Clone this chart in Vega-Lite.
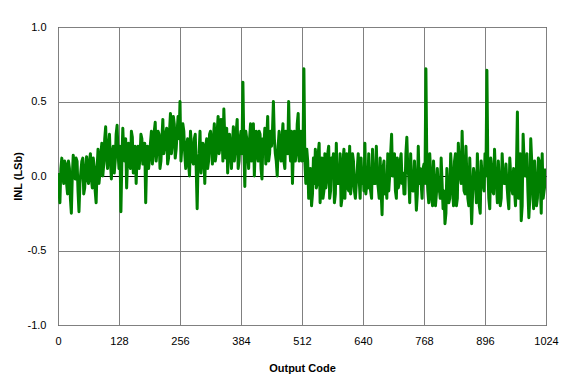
{
  "$schema": "https://vega.github.io/schema/vega-lite/v6.json",
  "width": 488,
  "height": 298,
  "autosize": {"type": "none"},
  "padding": {"left": 58, "top": 27, "right": 27, "bottom": 62},
  "background": "white",
  "config": {
    "view": {"stroke": "#000000", "strokeWidth": 1},
    "font": "Liberation Sans"
  },
  "data": {
    "values": [
      {"code": 0, "inl": 0.02}, {"code": 2, "inl": -0.1}, {"code": 4, "inl": -0.18}, {"code": 6, "inl": 0.05}, {"code": 8, "inl": 0.12}, {"code": 10, "inl": 0.0}, {"code": 12, "inl": -0.05}, {"code": 14, "inl": 0.1},
      {"code": 16, "inl": 0.08}, {"code": 18, "inl": -0.05}, {"code": 20, "inl": -0.12}, {"code": 22, "inl": 0.1}, {"code": 24, "inl": 0.05}, {"code": 26, "inl": -0.15}, {"code": 28, "inl": -0.25}, {"code": 30, "inl": 0.0},
      {"code": 32, "inl": 0.14}, {"code": 34, "inl": 0.05}, {"code": 36, "inl": -0.02}, {"code": 38, "inl": 0.12}, {"code": 40, "inl": 0.1}, {"code": 42, "inl": -0.1}, {"code": 44, "inl": -0.24}, {"code": 46, "inl": -0.05},
      {"code": 48, "inl": 0.03}, {"code": 50, "inl": 0.1}, {"code": 52, "inl": 0.12}, {"code": 54, "inl": -0.12}, {"code": 56, "inl": -0.08}, {"code": 58, "inl": 0.05}, {"code": 60, "inl": 0.13}, {"code": 62, "inl": -0.02},
      {"code": 64, "inl": -0.05}, {"code": 66, "inl": 0.1}, {"code": 68, "inl": 0.15}, {"code": 70, "inl": -0.02}, {"code": 72, "inl": -0.08}, {"code": 74, "inl": 0.12}, {"code": 76, "inl": 0.06}, {"code": 78, "inl": -0.1},
      {"code": 80, "inl": -0.18}, {"code": 82, "inl": 0.05}, {"code": 84, "inl": 0.18}, {"code": 86, "inl": -0.05}, {"code": 88, "inl": 0.02}, {"code": 90, "inl": 0.15}, {"code": 92, "inl": 0.22}, {"code": 94, "inl": 0.0},
      {"code": 96, "inl": 0.08}, {"code": 98, "inl": 0.25}, {"code": 100, "inl": 0.33}, {"code": 102, "inl": 0.12}, {"code": 104, "inl": 0.05}, {"code": 106, "inl": 0.2}, {"code": 108, "inl": 0.28}, {"code": 110, "inl": 0.1},
      {"code": 112, "inl": -0.02}, {"code": 114, "inl": 0.15}, {"code": 116, "inl": 0.2}, {"code": 118, "inl": 0.02}, {"code": 120, "inl": 0.1}, {"code": 122, "inl": 0.28}, {"code": 124, "inl": 0.34}, {"code": 126, "inl": 0.15},
      {"code": 128, "inl": 0.05}, {"code": 130, "inl": 0.2}, {"code": 132, "inl": -0.24}, {"code": 134, "inl": 0.1}, {"code": 136, "inl": 0.32}, {"code": 138, "inl": 0.15}, {"code": 140, "inl": 0.1}, {"code": 142, "inl": 0.25},
      {"code": 144, "inl": -0.08}, {"code": 146, "inl": 0.12}, {"code": 148, "inl": 0.22}, {"code": 150, "inl": 0.1}, {"code": 152, "inl": 0.05}, {"code": 154, "inl": 0.3}, {"code": 156, "inl": 0.26}, {"code": 158, "inl": 0.02},
      {"code": 160, "inl": 0.08}, {"code": 162, "inl": 0.2}, {"code": 164, "inl": -0.05}, {"code": 166, "inl": 0.15}, {"code": 168, "inl": 0.2}, {"code": 170, "inl": 0.05}, {"code": 172, "inl": 0.12}, {"code": 174, "inl": 0.28},
      {"code": 176, "inl": 0.25}, {"code": 178, "inl": 0.08}, {"code": 180, "inl": 0.1}, {"code": 182, "inl": 0.22}, {"code": 184, "inl": -0.18}, {"code": 186, "inl": 0.1}, {"code": 188, "inl": 0.2}, {"code": 190, "inl": 0.05},
      {"code": 192, "inl": 0.12}, {"code": 194, "inl": 0.22}, {"code": 196, "inl": 0.3}, {"code": 198, "inl": 0.08}, {"code": 200, "inl": 0.15}, {"code": 202, "inl": 0.3}, {"code": 204, "inl": 0.36}, {"code": 206, "inl": 0.1},
      {"code": 208, "inl": 0.18}, {"code": 210, "inl": 0.3}, {"code": 212, "inl": 0.28}, {"code": 214, "inl": 0.05}, {"code": 216, "inl": 0.1}, {"code": 218, "inl": 0.25}, {"code": 220, "inl": 0.38}, {"code": 222, "inl": 0.15},
      {"code": 224, "inl": 0.2}, {"code": 226, "inl": 0.28}, {"code": 228, "inl": 0.32}, {"code": 230, "inl": 0.08}, {"code": 232, "inl": 0.12}, {"code": 234, "inl": 0.3}, {"code": 236, "inl": 0.42}, {"code": 238, "inl": 0.15},
      {"code": 240, "inl": 0.22}, {"code": 242, "inl": 0.4}, {"code": 244, "inl": 0.35}, {"code": 246, "inl": 0.12}, {"code": 248, "inl": 0.18}, {"code": 250, "inl": 0.3}, {"code": 252, "inl": 0.4}, {"code": 254, "inl": 0.25},
      {"code": 256, "inl": 0.5}, {"code": 258, "inl": 0.1}, {"code": 260, "inl": 0.2}, {"code": 262, "inl": 0.35}, {"code": 264, "inl": 0.3}, {"code": 266, "inl": 0.15}, {"code": 268, "inl": 0.05}, {"code": 270, "inl": 0.2},
      {"code": 272, "inl": 0.25}, {"code": 274, "inl": 0.08}, {"code": 276, "inl": 0.0}, {"code": 278, "inl": 0.3}, {"code": 280, "inl": 0.2}, {"code": 282, "inl": 0.1}, {"code": 284, "inl": 0.08}, {"code": 286, "inl": 0.25},
      {"code": 288, "inl": 0.28}, {"code": 290, "inl": 0.05}, {"code": 292, "inl": -0.22}, {"code": 294, "inl": 0.1}, {"code": 296, "inl": 0.15}, {"code": 298, "inl": 0.3}, {"code": 300, "inl": 0.02}, {"code": 302, "inl": 0.1},
      {"code": 304, "inl": 0.22}, {"code": 306, "inl": 0.15}, {"code": 308, "inl": -0.05}, {"code": 310, "inl": 0.2}, {"code": 312, "inl": 0.25}, {"code": 314, "inl": 0.05}, {"code": 316, "inl": 0.1}, {"code": 318, "inl": 0.28},
      {"code": 320, "inl": 0.3}, {"code": 322, "inl": 0.2}, {"code": 324, "inl": 0.08}, {"code": 326, "inl": 0.25}, {"code": 328, "inl": 0.35}, {"code": 330, "inl": 0.1}, {"code": 332, "inl": 0.15}, {"code": 334, "inl": 0.3},
      {"code": 336, "inl": 0.4}, {"code": 338, "inl": 0.15}, {"code": 340, "inl": 0.2}, {"code": 342, "inl": 0.38}, {"code": 344, "inl": 0.3}, {"code": 346, "inl": 0.1}, {"code": 348, "inl": 0.45}, {"code": 350, "inl": 0.25},
      {"code": 352, "inl": 0.12}, {"code": 354, "inl": 0.32}, {"code": 356, "inl": 0.02}, {"code": 358, "inl": 0.2}, {"code": 360, "inl": 0.28}, {"code": 362, "inl": 0.15}, {"code": 364, "inl": 0.05}, {"code": 366, "inl": 0.22},
      {"code": 368, "inl": 0.33}, {"code": 370, "inl": 0.1}, {"code": 372, "inl": 0.18}, {"code": 374, "inl": 0.3}, {"code": 376, "inl": 0.38}, {"code": 378, "inl": 0.05}, {"code": 380, "inl": 0.1}, {"code": 382, "inl": 0.25},
      {"code": 384, "inl": 0.3}, {"code": 386, "inl": 0.15}, {"code": 388, "inl": 0.63}, {"code": 390, "inl": 0.2}, {"code": 392, "inl": -0.07}, {"code": 394, "inl": 0.3}, {"code": 396, "inl": 0.25}, {"code": 398, "inl": 0.15},
      {"code": 400, "inl": 0.05}, {"code": 402, "inl": 0.25}, {"code": 404, "inl": 0.35}, {"code": 406, "inl": 0.1}, {"code": 408, "inl": 0.15}, {"code": 410, "inl": 0.35}, {"code": 412, "inl": 0.0}, {"code": 414, "inl": 0.2},
      {"code": 416, "inl": 0.3}, {"code": 418, "inl": 0.15}, {"code": 420, "inl": 0.1}, {"code": 422, "inl": 0.3}, {"code": 424, "inl": 0.28}, {"code": 426, "inl": 0.05}, {"code": 428, "inl": -0.02}, {"code": 430, "inl": 0.25},
      {"code": 432, "inl": 0.2}, {"code": 434, "inl": 0.32}, {"code": 436, "inl": 0.08}, {"code": 438, "inl": 0.25}, {"code": 440, "inl": 0.4}, {"code": 442, "inl": 0.1}, {"code": 444, "inl": 0.15}, {"code": 446, "inl": 0.3},
      {"code": 448, "inl": 0.2}, {"code": 450, "inl": 0.3}, {"code": 452, "inl": 0.5}, {"code": 454, "inl": 0.25}, {"code": 456, "inl": 0.15}, {"code": 458, "inl": 0.1}, {"code": 460, "inl": 0.0}, {"code": 462, "inl": 0.2},
      {"code": 464, "inl": 0.3}, {"code": 466, "inl": 0.15}, {"code": 468, "inl": 0.1}, {"code": 470, "inl": 0.25}, {"code": 472, "inl": 0.35}, {"code": 474, "inl": 0.1}, {"code": 476, "inl": 0.05}, {"code": 478, "inl": 0.3},
      {"code": 480, "inl": 0.25}, {"code": 482, "inl": 0.15}, {"code": 484, "inl": 0.5}, {"code": 486, "inl": 0.2}, {"code": 488, "inl": 0.1}, {"code": 490, "inl": 0.3}, {"code": 492, "inl": -0.05}, {"code": 494, "inl": 0.2},
      {"code": 496, "inl": 0.3}, {"code": 498, "inl": 0.1}, {"code": 500, "inl": 0.15}, {"code": 502, "inl": 0.35}, {"code": 504, "inl": 0.42}, {"code": 506, "inl": 0.1}, {"code": 508, "inl": 0.2}, {"code": 510, "inl": 0.3},
      {"code": 512, "inl": 0.1}, {"code": 514, "inl": 0.15}, {"code": 516, "inl": 0.72}, {"code": 518, "inl": 0.1}, {"code": 520, "inl": -0.05}, {"code": 522, "inl": 0.18}, {"code": 524, "inl": 0.1}, {"code": 526, "inl": -0.15},
      {"code": 528, "inl": -0.12}, {"code": 530, "inl": 0.05}, {"code": 532, "inl": -0.2}, {"code": 534, "inl": -0.12}, {"code": 536, "inl": 0.12}, {"code": 538, "inl": -0.05}, {"code": 540, "inl": 0.18}, {"code": 542, "inl": -0.08},
      {"code": 544, "inl": -0.05}, {"code": 546, "inl": 0.15}, {"code": 548, "inl": 0.22}, {"code": 550, "inl": -0.18}, {"code": 552, "inl": 0.02}, {"code": 554, "inl": 0.12}, {"code": 556, "inl": -0.15}, {"code": 558, "inl": -0.1},
      {"code": 560, "inl": 0.15}, {"code": 562, "inl": -0.08}, {"code": 564, "inl": -0.02}, {"code": 566, "inl": 0.15}, {"code": 568, "inl": 0.2}, {"code": 570, "inl": -0.15}, {"code": 572, "inl": -0.1}, {"code": 574, "inl": 0.12},
      {"code": 576, "inl": 0.08}, {"code": 578, "inl": 0.15}, {"code": 580, "inl": -0.18}, {"code": 582, "inl": -0.12}, {"code": 584, "inl": 0.22}, {"code": 586, "inl": -0.05}, {"code": 588, "inl": 0.0}, {"code": 590, "inl": -0.05},
      {"code": 592, "inl": 0.15}, {"code": 594, "inl": -0.2}, {"code": 596, "inl": -0.15}, {"code": 598, "inl": 0.1}, {"code": 600, "inl": 0.18}, {"code": 602, "inl": -0.15}, {"code": 604, "inl": 0.05}, {"code": 606, "inl": 0.15},
      {"code": 608, "inl": -0.08}, {"code": 610, "inl": -0.1}, {"code": 612, "inl": 0.2}, {"code": 614, "inl": -0.12}, {"code": 616, "inl": -0.05}, {"code": 618, "inl": 0.15}, {"code": 620, "inl": 0.1}, {"code": 622, "inl": -0.1},
      {"code": 624, "inl": -0.15}, {"code": 626, "inl": -0.05}, {"code": 628, "inl": 0.05}, {"code": 630, "inl": 0.15}, {"code": 632, "inl": -0.02}, {"code": 634, "inl": -0.15}, {"code": 636, "inl": 0.12}, {"code": 638, "inl": -0.05},
      {"code": 640, "inl": 0.05}, {"code": 642, "inl": -0.1}, {"code": 644, "inl": 0.22}, {"code": 646, "inl": -0.12}, {"code": 648, "inl": -0.05}, {"code": 650, "inl": -0.08}, {"code": 652, "inl": 0.15}, {"code": 654, "inl": -0.05},
      {"code": 656, "inl": -0.1}, {"code": 658, "inl": -0.15}, {"code": 660, "inl": 0.18}, {"code": 662, "inl": -0.05}, {"code": 664, "inl": 0.0}, {"code": 666, "inl": -0.05}, {"code": 668, "inl": 0.2}, {"code": 670, "inl": -0.02},
      {"code": 672, "inl": -0.08}, {"code": 674, "inl": -0.15}, {"code": 676, "inl": 0.12}, {"code": 678, "inl": -0.1}, {"code": 680, "inl": -0.26}, {"code": 682, "inl": 0.05}, {"code": 684, "inl": 0.1}, {"code": 686, "inl": -0.12},
      {"code": 688, "inl": -0.05}, {"code": 690, "inl": -0.15}, {"code": 692, "inl": 0.15}, {"code": 694, "inl": -0.1}, {"code": 696, "inl": 0.0}, {"code": 698, "inl": 0.15}, {"code": 700, "inl": 0.28}, {"code": 702, "inl": 0.0},
      {"code": 704, "inl": 0.05}, {"code": 706, "inl": 0.15}, {"code": 708, "inl": -0.1}, {"code": 710, "inl": -0.15}, {"code": 712, "inl": 0.12}, {"code": 714, "inl": -0.08}, {"code": 716, "inl": -0.05}, {"code": 718, "inl": 0.1},
      {"code": 720, "inl": 0.15}, {"code": 722, "inl": -0.05}, {"code": 724, "inl": 0.02}, {"code": 726, "inl": -0.12}, {"code": 728, "inl": -0.12}, {"code": 730, "inl": 0.15}, {"code": 732, "inl": 0.26}, {"code": 734, "inl": 0.05},
      {"code": 736, "inl": 0.0}, {"code": 738, "inl": -0.18}, {"code": 740, "inl": 0.15}, {"code": 742, "inl": -0.05}, {"code": 744, "inl": -0.1}, {"code": 746, "inl": -0.1}, {"code": 748, "inl": 0.1}, {"code": 750, "inl": -0.05},
      {"code": 752, "inl": -0.23}, {"code": 754, "inl": -0.12}, {"code": 756, "inl": 0.2}, {"code": 758, "inl": -0.05}, {"code": 760, "inl": 0.05}, {"code": 762, "inl": -0.05}, {"code": 764, "inl": -0.15}, {"code": 766, "inl": 0.05},
      {"code": 768, "inl": 0.08}, {"code": 770, "inl": -0.05}, {"code": 772, "inl": 0.72}, {"code": 774, "inl": 0.05}, {"code": 776, "inl": -0.1}, {"code": 778, "inl": -0.18}, {"code": 780, "inl": 0.15}, {"code": 782, "inl": 0.02},
      {"code": 784, "inl": -0.15}, {"code": 786, "inl": -0.2}, {"code": 788, "inl": 0.1}, {"code": 790, "inl": -0.05}, {"code": 792, "inl": -0.2}, {"code": 794, "inl": -0.12}, {"code": 796, "inl": 0.05}, {"code": 798, "inl": -0.1},
      {"code": 800, "inl": -0.08}, {"code": 802, "inl": -0.15}, {"code": 804, "inl": 0.12}, {"code": 806, "inl": -0.05}, {"code": 808, "inl": -0.22}, {"code": 810, "inl": -0.1}, {"code": 812, "inl": -0.32}, {"code": 814, "inl": -0.25},
      {"code": 816, "inl": 0.05}, {"code": 818, "inl": -0.1}, {"code": 820, "inl": -0.18}, {"code": 822, "inl": -0.15}, {"code": 824, "inl": 0.15}, {"code": 826, "inl": 0.02}, {"code": 828, "inl": -0.1}, {"code": 830, "inl": -0.2},
      {"code": 832, "inl": 0.1}, {"code": 834, "inl": 0.15}, {"code": 836, "inl": -0.2}, {"code": 838, "inl": -0.15}, {"code": 840, "inl": 0.22}, {"code": 842, "inl": 0.1}, {"code": 844, "inl": 0.0}, {"code": 846, "inl": -0.05},
      {"code": 848, "inl": 0.3}, {"code": 850, "inl": 0.05}, {"code": 852, "inl": -0.1}, {"code": 854, "inl": -0.12}, {"code": 856, "inl": 0.2}, {"code": 858, "inl": 0.0}, {"code": 860, "inl": -0.15}, {"code": 862, "inl": -0.2},
      {"code": 864, "inl": 0.12}, {"code": 866, "inl": -0.1}, {"code": 868, "inl": -0.32}, {"code": 870, "inl": -0.12}, {"code": 872, "inl": 0.05}, {"code": 874, "inl": 0.0}, {"code": 876, "inl": -0.05}, {"code": 878, "inl": -0.18},
      {"code": 880, "inl": 0.15}, {"code": 882, "inl": -0.05}, {"code": 884, "inl": -0.2}, {"code": 886, "inl": -0.25}, {"code": 888, "inl": 0.1}, {"code": 890, "inl": 0.0}, {"code": 892, "inl": -0.05}, {"code": 894, "inl": -0.1},
      {"code": 896, "inl": 0.15}, {"code": 898, "inl": 0.0}, {"code": 900, "inl": 0.71}, {"code": 902, "inl": 0.05}, {"code": 904, "inl": -0.15}, {"code": 906, "inl": -0.22}, {"code": 908, "inl": 0.12}, {"code": 910, "inl": 0.05},
      {"code": 912, "inl": -0.1}, {"code": 914, "inl": -0.12}, {"code": 916, "inl": 0.18}, {"code": 918, "inl": 0.0}, {"code": 920, "inl": -0.05}, {"code": 922, "inl": -0.18}, {"code": 924, "inl": 0.1}, {"code": 926, "inl": -0.05},
      {"code": 928, "inl": -0.2}, {"code": 930, "inl": -0.15}, {"code": 932, "inl": 0.15}, {"code": 934, "inl": 0.0}, {"code": 936, "inl": -0.05}, {"code": 938, "inl": -0.05}, {"code": 940, "inl": 0.08}, {"code": 942, "inl": -0.05},
      {"code": 944, "inl": -0.15}, {"code": 946, "inl": -0.22}, {"code": 948, "inl": 0.12}, {"code": 950, "inl": 0.0}, {"code": 952, "inl": -0.08}, {"code": 954, "inl": -0.12}, {"code": 956, "inl": 0.05}, {"code": 958, "inl": -0.1},
      {"code": 960, "inl": -0.2}, {"code": 962, "inl": 0.05}, {"code": 964, "inl": 0.43}, {"code": 966, "inl": -0.15}, {"code": 968, "inl": -0.05}, {"code": 970, "inl": 0.15}, {"code": 972, "inl": -0.3}, {"code": 974, "inl": -0.2},
      {"code": 976, "inl": 0.28}, {"code": 978, "inl": 0.1}, {"code": 980, "inl": 0.0}, {"code": 982, "inl": 0.05}, {"code": 984, "inl": 0.15}, {"code": 986, "inl": -0.1}, {"code": 988, "inl": -0.28}, {"code": 990, "inl": -0.15},
      {"code": 992, "inl": 0.25}, {"code": 994, "inl": 0.1}, {"code": 996, "inl": -0.1}, {"code": 998, "inl": -0.22}, {"code": 1000, "inl": 0.1}, {"code": 1002, "inl": -0.05}, {"code": 1004, "inl": -0.2}, {"code": 1006, "inl": -0.15},
      {"code": 1008, "inl": 0.12}, {"code": 1010, "inl": 0.1}, {"code": 1012, "inl": -0.05}, {"code": 1014, "inl": -0.25}, {"code": 1016, "inl": 0.15}, {"code": 1018, "inl": -0.15}, {"code": 1020, "inl": -0.1}, {"code": 1022, "inl": -0.05},
      {"code": 1023, "inl": 0.05}
    ]
  },
  "mark": {"type": "line", "color": "#008000", "strokeWidth": 3, "strokeJoin": "round", "clip": true},
  "encoding": {
    "x": {
      "field": "code",
      "type": "quantitative",
      "scale": {"domain": [0, 1024], "nice": false, "zero": false},
      "axis": {
        "values": [0, 128, 256, 384, 512, 640, 768, 896, 1024],
        "format": "d",
        "title": "Output Code",
        "titleFont": "Liberation Sans",
        "titleFontSize": 11,
        "titleFontWeight": "bold",
        "titleColor": "#000000",
        "titlePadding": 16,
        "labelFont": "Liberation Sans",
        "labelFontSize": 11,
        "labelColor": "#000000",
        "labelPadding": 10,
        "labelFlush": false,
        "ticks": false,
        "domain": false,
        "grid": true,
        "gridColor": "#808080",
        "gridWidth": 1
      }
    },
    "y": {
      "field": "inl",
      "type": "quantitative",
      "scale": {"domain": [-1, 1], "nice": false, "zero": false},
      "axis": {
        "values": [-1, -0.5, 0, 0.5, 1],
        "format": ".1f",
        "labelExpr": "replace(datum.label, '\u2212', '-')",
        "title": "INL (LSb)",
        "titleFont": "Liberation Sans",
        "titleFontSize": 11,
        "titleFontWeight": "bold",
        "titleColor": "#000000",
        "titlePadding": 4,
        "labelFont": "Liberation Sans",
        "labelFontSize": 11,
        "labelColor": "#000000",
        "labelPadding": 12,
        "labelFlush": false,
        "ticks": false,
        "domain": false,
        "grid": true,
        "gridColor": {"condition": {"test": "datum.value === 0", "value": "#000000"}, "value": "#808080"},
        "gridWidth": 1
      }
    }
  }
}
